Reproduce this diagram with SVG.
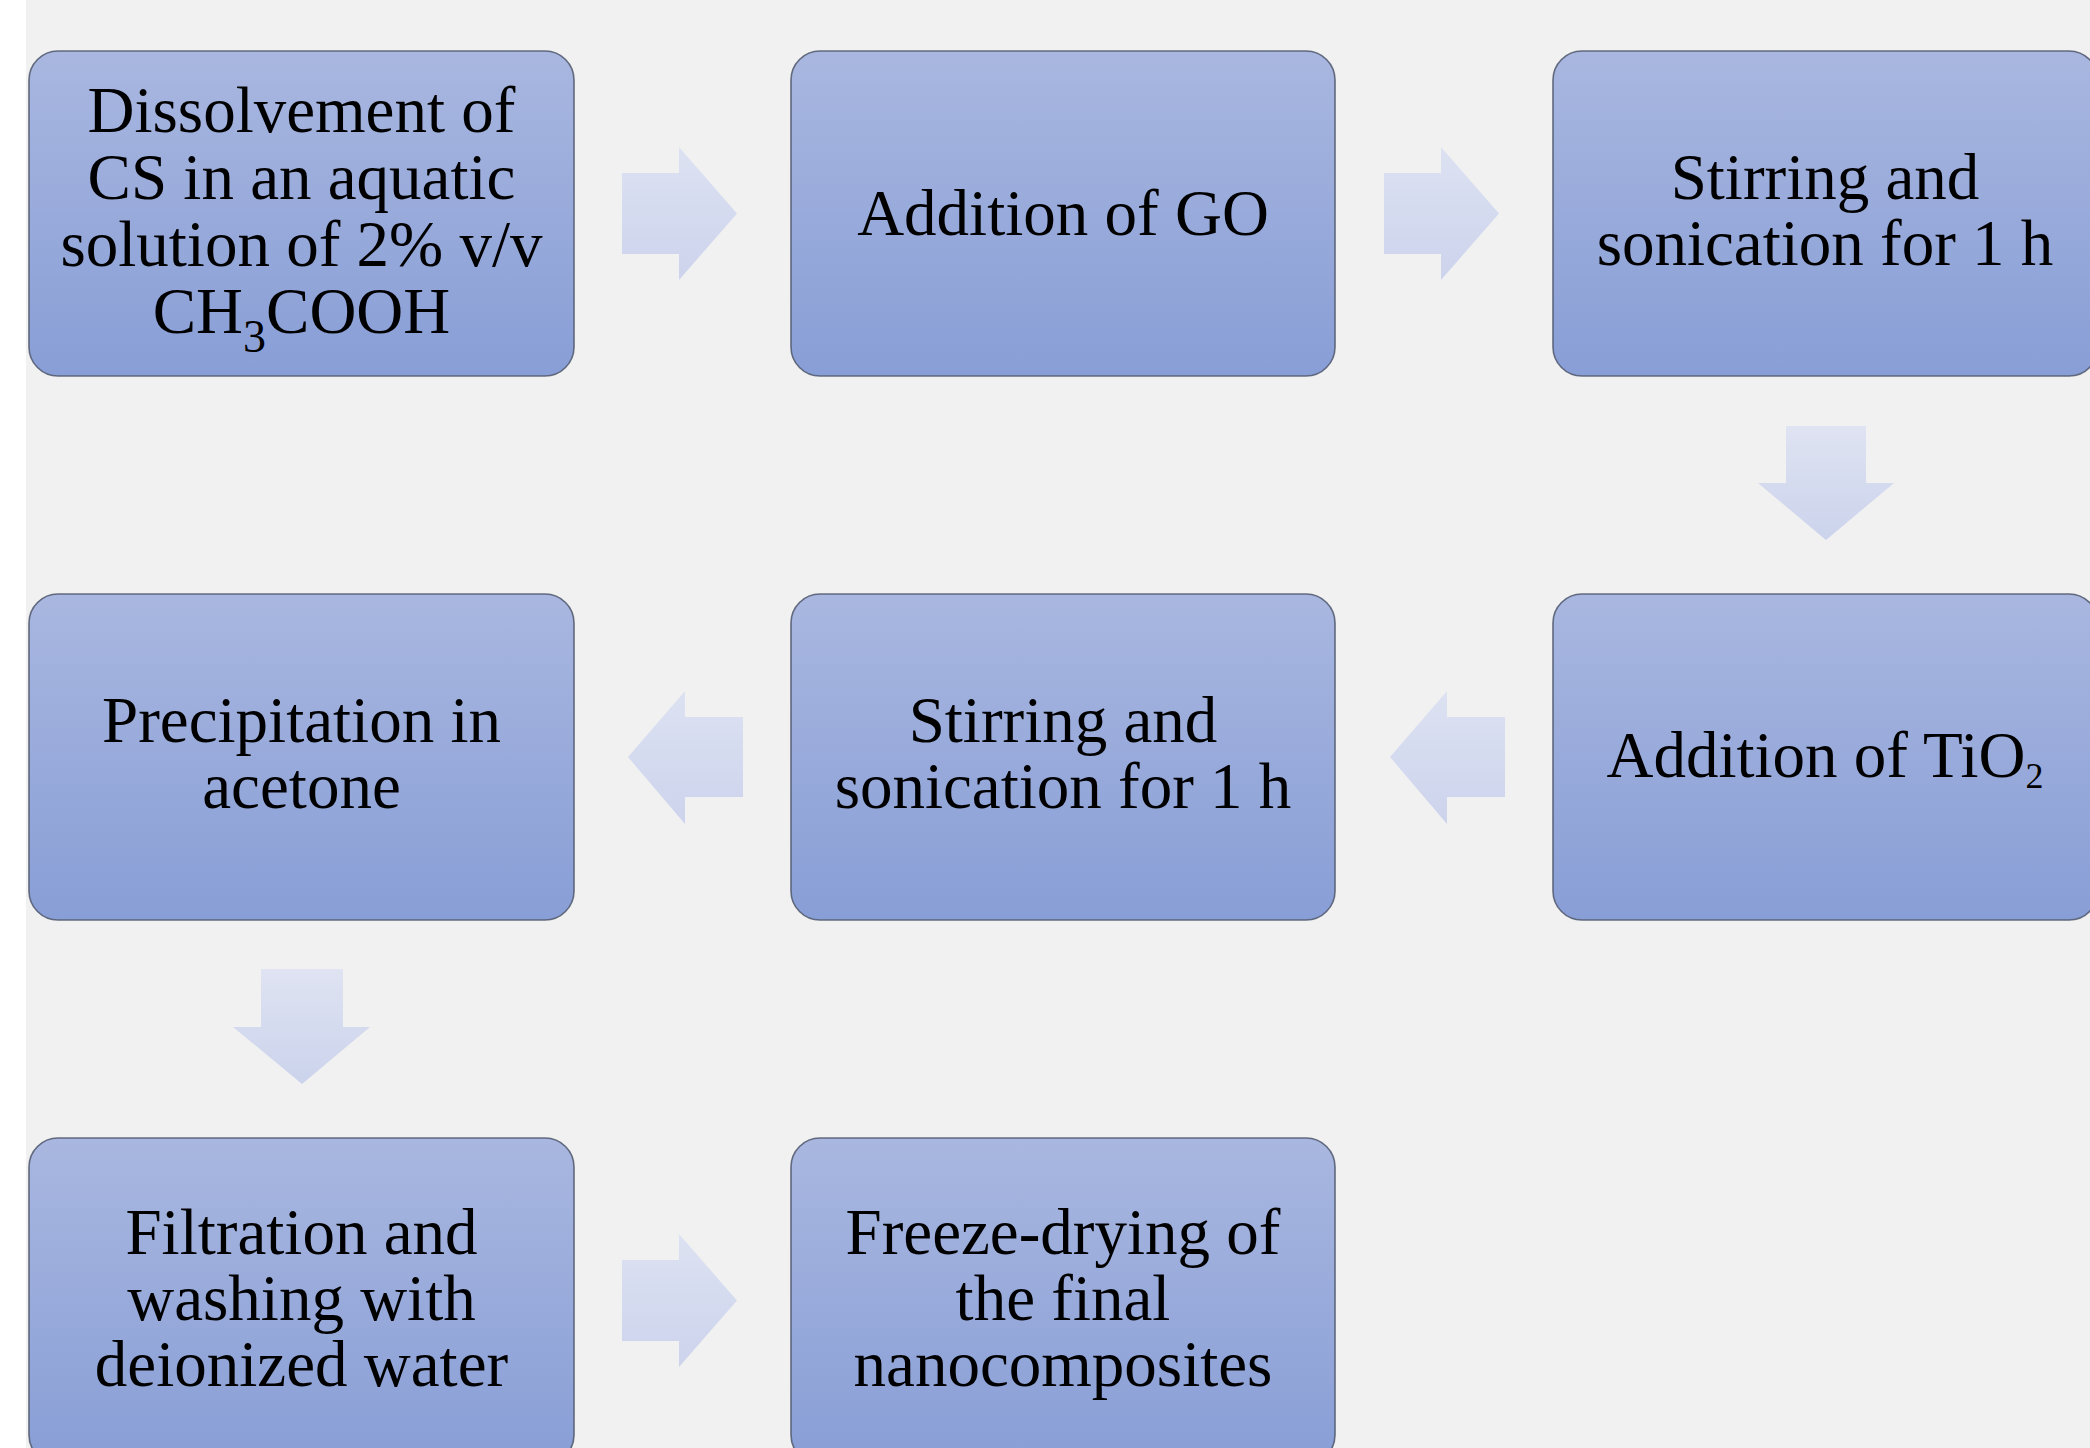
<svg xmlns="http://www.w3.org/2000/svg" width="2090" height="1448" viewBox="0 0 2090 1448">
<style>
.box{fill:url(#boxg);stroke:#545d72;stroke-width:1.6;stroke-opacity:0.9}
.arr{fill:url(#arrg)}
.arrh{fill:url(#arrgh)}
.t{font-family:"Liberation Serif","Times New Roman",serif;font-size:65px;fill:#000;text-anchor:middle}
</style>
<defs>
<linearGradient id="boxg" x1="0" y1="0" x2="0" y2="1">
<stop offset="0" stop-color="#a9b7e0"/>
<stop offset="1" stop-color="#889ed6"/>
</linearGradient>
<linearGradient id="arrg" x1="0" y1="0" x2="0" y2="1">
<stop offset="0" stop-color="#dfe3f2"/>
<stop offset="1" stop-color="#cbd3ec"/>
</linearGradient>
<linearGradient id="arrgh" x1="0" y1="0" x2="0" y2="1">
<stop offset="0" stop-color="#dde2f2"/>
<stop offset="1" stop-color="#ccd3ec"/>
</linearGradient>
</defs>
<rect x="0" y="0" width="2090" height="1448" fill="#f1f1f1"/>
<rect x="0" y="0" width="26" height="1448" fill="#ffffff"/>

<g id="connectors">
<polygon class="arrh" points="622,173 679,173 679,147 737,213.5 679,280 679,254 622,254"/>
<polygon class="arrh" points="1384,173 1441,173 1441,147 1499,213.5 1441,280 1441,254 1384,254"/>
<polygon class="arr" points="1786,426 1866,426 1866,483 1894,483 1826,540 1758,483 1786,483"/>
<polygon class="arrh" points="1505,717 1447,717 1447,691 1390,757 1447,824 1447,797 1505,797"/>
<polygon class="arrh" points="743,717 685,717 685,691 628,757 685,824 685,797 743,797"/>
<polygon class="arr" points="261,969 343,969 343,1027 370,1027 302,1084 233,1027 261,1027"/>
<polygon class="arrh" points="622,1260 679,1260 679,1234 737,1300.5 679,1367 679,1341 622,1341"/>
</g>

<g id="n1">
<rect class="box" x="29" y="51" width="545" height="325" rx="29"/>
<text class="t" x="301.5" y="132">Dissolvement of</text>
<text class="t" x="301.5" y="199">CS in an aquatic</text>
<text class="t" x="301.5" y="266">solution of 2% v/v</text>
<text class="t" x="301.5" y="333">CH<tspan font-size="46" dy="19">3</tspan><tspan dy="-19">COOH</tspan></text>
</g>
<g id="n2">
<rect class="box" x="791" y="51" width="544" height="325" rx="29"/>
<text class="t" x="1063" y="235">Addition of GO</text>
</g>
<g id="n3">
<rect class="box" x="1553" y="51" width="545" height="325" rx="29"/>
<text class="t" x="1825" y="199">Stirring and</text>
<text class="t" x="1825" y="265">sonication for 1 h</text>
</g>
<g id="n4">
<rect class="box" x="1553" y="594" width="545" height="326" rx="29"/>
<text class="t" x="1825" y="777">Addition of TiO<tspan font-size="36" dy="11">2</tspan></text>
</g>
<g id="n5">
<rect class="box" x="791" y="594" width="544" height="326" rx="29"/>
<text class="t" x="1063" y="742">Stirring and</text>
<text class="t" x="1063" y="808">sonication for 1 h</text>
</g>
<g id="n6">
<rect class="box" x="29" y="594" width="545" height="326" rx="29"/>
<text class="t" x="301.5" y="742">Precipitation in</text>
<text class="t" x="301.5" y="808">acetone</text>
</g>
<g id="n7">
<rect class="box" x="29" y="1138" width="545" height="326" rx="29"/>
<text class="t" x="301.5" y="1254">Filtration and</text>
<text class="t" x="301.5" y="1320">washing with</text>
<text class="t" x="301.5" y="1386">deionized water</text>
</g>
<g id="n8">
<rect class="box" x="791" y="1138" width="544" height="326" rx="29"/>
<text class="t" x="1063" y="1254">Freeze-drying of</text>
<text class="t" x="1063" y="1320">the final</text>
<text class="t" x="1063" y="1386">nanocomposites</text>
</g>
</svg>
